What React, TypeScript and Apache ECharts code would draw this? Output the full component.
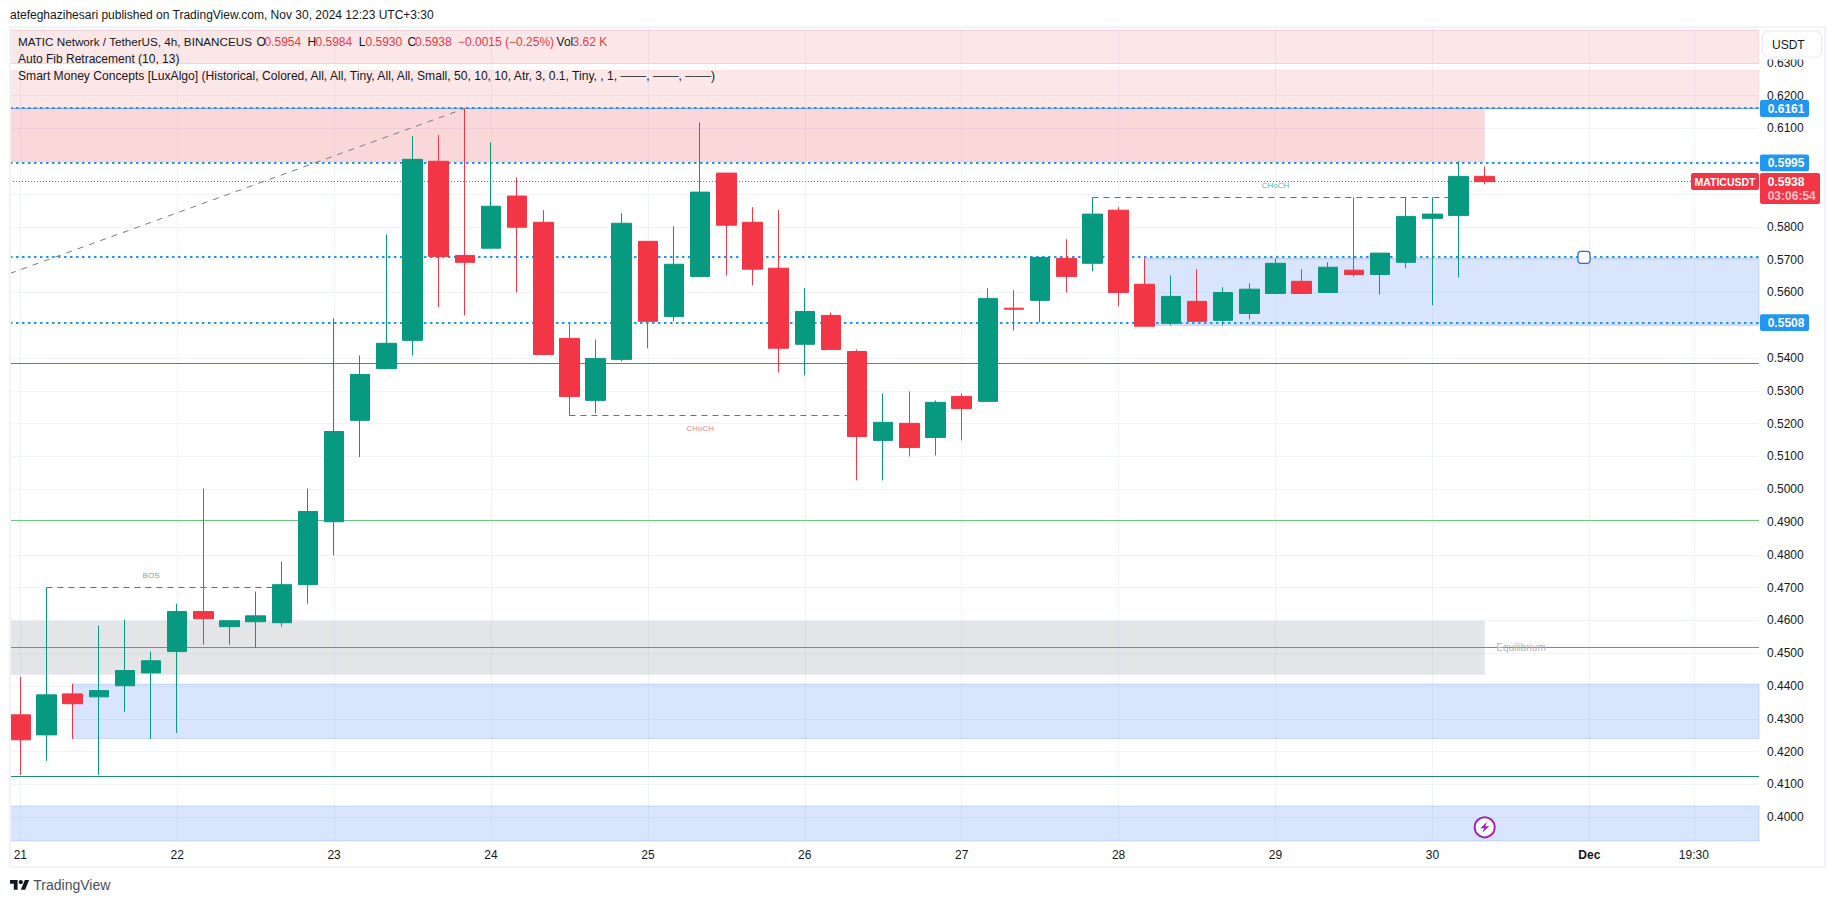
import React, { useEffect, useRef } from "react";
import * as echarts from "echarts";

const opens = [0.4312,0.4251,0.4376,0.4367,0.4401,0.4440,0.4505,0.4627,0.4581,0.4596,0.4593,0.4709,0.4901,0.5210,0.5368,0.5454,0.6000,0.5713,0.5735,0.5894,0.5814,0.5460,0.5271,0.5396,0.5756,0.5527,0.5649,0.5964,0.5814,0.5674,0.5442,0.5530,0.5420,0.5149,0.5201,0.5158,0.5283,0.5268,0.5552,0.5576,0.5704,0.5689,0.5851,0.5625,0.5506,0.5573,0.5515,0.5536,0.5597,0.5634,0.5600,0.5668,0.5655,0.5692,0.5826,0.5835,0.5954];
const closes = [0.4236,0.4373,0.4346,0.4386,0.4447,0.4477,0.4627,0.4605,0.4599,0.4614,0.4709,0.4932,0.5176,0.5350,0.5445,0.6006,0.5710,0.5692,0.5863,0.5799,0.5411,0.5283,0.5399,0.5811,0.5512,0.5686,0.5906,0.5805,0.5671,0.5430,0.5542,0.5426,0.5161,0.5204,0.5127,0.5265,0.5246,0.5582,0.5549,0.5707,0.5649,0.5839,0.5600,0.5497,0.5588,0.5512,0.5600,0.5610,0.5689,0.5597,0.5677,0.5655,0.5720,0.5832,0.5839,0.5954,0.5938];
const lows = [0.4129,0.4172,0.4239,0.4129,0.4321,0.4239,0.4257,0.4526,0.4526,0.4517,0.4581,0.4651,0.4798,0.5098,0.5368,0.5408,0.5555,0.5530,0.5735,0.5600,0.5411,0.5224,0.5231,0.5390,0.5430,0.5512,0.5649,0.5652,0.5622,0.5356,0.5347,0.5426,0.5027,0.5027,0.5100,0.5103,0.5149,0.5268,0.5484,0.5509,0.5600,0.5665,0.5558,0.5497,0.5500,0.5512,0.5500,0.5518,0.5597,0.5597,0.5600,0.5649,0.5594,0.5674,0.5561,0.5646,0.5930];
const highs = [0.4428,0.4699,0.4407,0.4584,0.4602,0.4505,0.4651,0.5002,0.4599,0.4688,0.4779,0.5002,0.5521,0.5408,0.5777,0.6077,0.6080,0.6161,0.6058,0.5951,0.5851,0.5503,0.5457,0.5842,0.5756,0.5802,0.6119,0.5964,0.5860,0.5851,0.5613,0.5539,0.5426,0.5292,0.5298,0.5271,0.5292,0.5613,0.5607,0.5707,0.5762,0.5890,0.5860,0.5704,0.5652,0.5671,0.5616,0.5628,0.5704,0.5671,0.5692,0.5890,0.5720,0.5890,0.5890,0.6000,0.5984];

const timeTickIndexes = [0,6,12,18,24,30,36,42,48,54,60,64];
const timeTickLabels = ["21","22","23","24","25","26","27","28","29","30","Dec","19:30"];
const priceGrid = [0.40,0.41,0.42,0.43,0.44,0.45,0.46,0.47,0.48,0.49,0.50,0.51,0.52,0.53,0.54,0.55,0.56,0.57,0.58,0.59,0.60,0.61,0.62,0.63,0.64];
const priceLabels = [0.40,0.41,0.42,0.43,0.44,0.45,0.46,0.47,0.48,0.49,0.50,0.51,0.52,0.53,0.54,0.56,0.57,0.58,0.61,0.62,0.63];

const X_MIN = -0.394;
const X_MAX = 66.49;
const Y_MIN = 0.39274;
const Y_MAX = 0.64095;
const LAST = 56;

const pinkZones = [[0.6400,0.6298],[0.6277,0.6163]];
const premiumZone = [0.6163,0.5998];
const equilibriumZone = [0.4599,0.4434];
const demandZoneUpper = [0.5705,0.5500];
const demandZoneMid = [0.4406,0.4240];
const demandZoneLow = [0.4034,Y_MIN];

const fibLevels = [0.6161,0.5995,0.5707,0.5508];
const fibTagged = [0.6161,0.5995,0.5508];
const lastPrice = 0.5938;
const redLevel = 0.5383;
const greenLevel = 0.4904;
const equilibriumLevel = 0.4516;
const tealLevel = 0.4125;
const fibTrend = [[X_MIN,0.5658],[17,0.6161]];
const bosPrice = 0.4699;
const bosSpan = [1,10];
const chochRedPrice = 0.5224;
const chochRedSpan = [21,32];
const chochGreenPrice = 0.5890;
const chochGreenSpan = [41,55];

const FONT = "'Liberation Sans', Arial, sans-serif";
const INK = "#131722";
const RED = "#f23645";
const GREEN = "#089981";
const BLUE = "#2196f3";

// keeps thin horizontal strokes on whole device pixels, as the original's canvas does
const GRID_TOP = 27;
const GRID_H = 814;
const snap = (v: number, offset: number) => {
  const k = GRID_H / (Y_MAX - Y_MIN);
  const y = GRID_TOP + (Y_MAX - v) * k;
  return Y_MAX - (Math.round(y - offset) + offset - GRID_TOP) / k;
};

const lineSeries = (data: number[][], color: string, width: number, type: any, z = 1) => ({
  type: "line", data, showSymbol: false, silent: true, z, animation: false,
  lineStyle: { color, width, type, cap: "butt" },
});
const hLine = (v: number, color: string, width: number, type: any, from = X_MIN, to = X_MAX) => {
  const s = snap(v, width % 2 ? 0.5 : 0);
  return lineSeries([[from, s],[to, s]], color, width, type);
};

const area = (x0: number, x1: number, ys: number[], color: string, border?: string) => [
  { xAxis: x0, yAxis: ys[0], itemStyle: { color, borderColor: border || "transparent", borderWidth: border ? 1 : 0 } },
  { xAxis: x1, yAxis: ys[1] },
];

echarts.graphic.registerShape("tvlogo", echarts.graphic.extendPath(
  "M14 22H7V11H0V4h14v18zM28 22h-8l7.5-18h8L28 22zM24 8a4 4 0 1 1-8 0 4 4 0 0 1 8 0z", {}) as any);

const txt = (x: number, y: number, text: string, fill: string, size = 12, weight = "normal", align = "left") => ({
  type: "text", x, y, z: 200, silent: true,
  style: { text, fill, font: `${weight} ${size}px ${FONT}`, align, verticalAlign: "middle", textAlign: align, textVerticalAlign: "middle" },
});
const box = (x: number, y: number, w: number, h: number, fill: string, stroke?: string, r = 2, z = 190) => ({
  type: "rect", z, silent: true, shape: { x, y, width: w, height: h, r },
  style: { fill, stroke: stroke || undefined, lineWidth: stroke ? 1 : 0 },
});

export default function App() {
  const ref = useRef<HTMLDivElement>(null);
  useEffect(() => {
    document.body.style.margin = "0";
    document.body.style.background = "#fff";
    const chart = echarts.init(ref.current!, undefined, { renderer: "svg" });
    const candles = opens.map((o, i) => [i, o, closes[i], lows[i], highs[i]]);
    const PINK = "rgba(232,60,72,0.125)";
    const PINK_B = "rgba(232,60,72,0.10)";
    const BLUE_Z = "rgba(45,115,240,0.185)";
    const BLUE_B = "rgba(45,115,240,0.2)";
    chart.setOption({
      animation: false,
      backgroundColor: "#ffffff",
      grid: { left: 10, top: GRID_TOP, right: 76, height: GRID_H, containLabel: false },
      xAxis: {
        type: "value", min: X_MIN, max: X_MAX,
        axisLine: { show: false },
        axisTick: { show: false, customValues: timeTickIndexes },
        axisLabel: {
          customValues: timeTickIndexes, margin: 8, color: INK, fontSize: 12, fontFamily: FONT,
          formatter: (v: number) => {
            const s = timeTickLabels[timeTickIndexes.indexOf(Math.round(v))] ?? "";
            return s === "Dec" ? "{b|Dec}" : s;
          },
          rich: { b: { fontWeight: "bold", fontSize: 12, fontFamily: FONT, color: INK } },
        },
        splitLine: { show: true, lineStyle: { color: "#f0f3fa", width: 1 } },
      },
      yAxis: {
        type: "value", position: "right", min: Y_MIN, max: Y_MAX, scale: true,
        axisLine: { show: false },
        axisTick: { show: false, customValues: priceGrid },
        axisLabel: {
          customValues: priceLabels, margin: 8, color: INK, fontSize: 12, fontFamily: FONT,
          formatter: (v: number) => v.toFixed(4),
        },
        splitLine: { show: true, lineStyle: { color: "#f0f3fa", width: 1 } },
      },
      series: [
        {
          type: "line", data: [], silent: true, z: 1, showSymbol: false,
          markArea: {
            silent: true, z: 1,
            data: [
              area(X_MIN, X_MAX, pinkZones[0], PINK, PINK_B),
              area(X_MIN, X_MAX, pinkZones[1], PINK, PINK_B),
              area(X_MIN, LAST, premiumZone, "rgba(232,60,72,0.2)"),
              area(X_MIN, LAST, equilibriumZone, "rgba(120,123,134,0.2)"),
              area(43, X_MAX, demandZoneUpper, BLUE_Z, BLUE_B),
              area(2, X_MAX, demandZoneMid, BLUE_Z, BLUE_B),
              area(X_MIN, X_MAX, demandZoneLow, BLUE_Z, BLUE_B),
            ],
          },
        },
        hLine(0.6161, "#7f9bd8", 1, "solid"),
        ...fibLevels.map((v) => hLine(v, BLUE, 2, [2.5, 3.5])),
        hLine(lastPrice, RED, 1, [1, 2]),
        hLine(redLevel, "#e8483f", 1, "solid"),
        hLine(greenLevel, "#6cc77a", 1, "solid"),
        hLine(equilibriumLevel, "#56a65c", 1, "solid"),
        hLine(tealLevel, "#1b8a76", 1, "solid"),
        lineSeries(fibTrend, "#787b86", 1, [6, 6]),
        hLine(bosPrice, GREEN, 1, [6, 5], bosSpan[0], bosSpan[1]),
        hLine(chochRedPrice, RED, 1, [6, 5], chochRedSpan[0], chochRedSpan[1]),
        hLine(chochGreenPrice, GREEN, 1, [6, 5], chochGreenSpan[0], chochGreenSpan[1]),
        {
          type: "candlestick", z: 5, data: candles, barWidth: 20, silent: true,
          encode: { x: 0, y: [1, 2, 3, 4] },
          itemStyle: { color: GREEN, color0: RED, borderColor: GREEN, borderColor0: RED, borderWidth: 1 },
        },
      ],
    });

    const py = (v: number) => chart.convertToPixel({ yAxisIndex: 0 }, v) as number;
    const px = (v: number) => chart.convertToPixel({ xAxisIndex: 0 }, v) as number;
    const g: any[] = [
      { type: "rect", z: 180, silent: true, shape: { x: 10, y: 27, width: 1815, height: 840 }, style: { fill: "none", stroke: "#f0f3fa", lineWidth: 2 } },
      txt(10, 15, "atefeghazihesari published on TradingView.com, Nov 30, 2024 12:23 UTC+3:30", INK),
      txt(18, 41.7, "MATIC Network / TetherUS, 4h, BINANCEUS", INK, 11.7),
      txt(256.6, 41.7, "O", INK), txt(264.5, 41.7, "0.5954", RED),
      txt(307.6, 41.7, "H", INK), txt(315.5, 41.7, "0.5984", RED),
      txt(358.7, 41.7, "L", INK), txt(365.5, 41.7, "0.5930", RED),
      txt(407.6, 41.7, "C", INK), txt(415, 41.7, "0.5938", RED),
      txt(458, 41.7, "−0.0015 (−0.25%)", RED),
      txt(556.6, 41.7, "Vol", INK), txt(572.5, 41.7, "3.62 K", RED),
      txt(18, 59, "Auto Fib Retracement (10, 13)", INK),
      txt(18, 76, "Smart Money Concepts [LuxAlgo] (Historical, Colored, All, All, Tiny, All, All, Small, 50, 10, 10, Atr, 3, 0.1, Tiny, , 1, ───, ───, ───)", INK, 12.1),
      box(1760, 28, 64, 31.5, "#ffffff", undefined, 0, 185),
      box(1762.5, 31, 59, 26, "#ffffff", "#e8eaf0", 5),
      txt(1772, 44.5, "USDT", INK),
      box(1691, 173, 68, 17, RED),
      txt(1725, 181.7, "MATICUSDT", "#ffffff", 10.5, "bold", "center"),
      box(1760, 173, 60, 31, RED),
      txt(1767.7, py(lastPrice) + 0.3, "0.5938", "#ffffff", 12, "bold"),
      txt(1767.7, 195.5, "03:06:54", "#fbc1c6", 12, "bold"),
      { type: "rect", z: 190, silent: true, shape: { x: 1578, y: py(0.5707) - 6, width: 12, height: 12, r: 3 }, style: { fill: "#ffffff", stroke: "#2962ff", lineWidth: 1.2 } },
      txt(px(5), py(0.4737), "BOS", "#4fb8a6", 8, "normal", "center"),
      txt(px(26), py(0.5186), "CHoCH", "#f7858f", 8, "normal", "center"),
      txt(px(48), py(0.5925), "CHoCH", "#4fb8a6", 8, "normal", "center"),
      txt(1521, py(equilibriumLevel), "Equilibrium", "#b2b5be", 10, "normal", "center"),
      { type: "circle", z: 190, silent: true, shape: { cx: px(LAST), cy: 827.3, r: 10 }, style: { fill: "#ffffff", stroke: "#9c27b0", lineWidth: 2 } },
      { type: "polygon", z: 191, silent: true, x: px(LAST), y: 827.3, shape: { points: [[2.5,-5.5],[-4.5,1],[-0.5,1],[-2.5,5.5],[4.5,-1],[0.5,-1]] }, style: { fill: "#9c27b0" } },
      { type: "tvlogo", z: 190, silent: true, x: 10, y: 877.8, scaleX: 0.54, scaleY: 0.54, style: { fill: INK } },
      txt(33.3, 885.3, "TradingView", "#4a4e59", 14),
    ];
    fibTagged.forEach((v) => {
      const y = py(v);
      g.push(box(1760, y - 8.4, 49, 16.8, BLUE));
      g.push(txt(1767.7, y + 0.3, v.toFixed(4), "#ffffff", 12, "bold"));
    });
    chart.setOption({ graphic: { elements: g } });
    return () => chart.dispose();
  }, []);
  return <div ref={ref} style={{ position: "fixed", left: 0, top: 0, width: 1835, height: 903, background: "#fff" }} />;
}
